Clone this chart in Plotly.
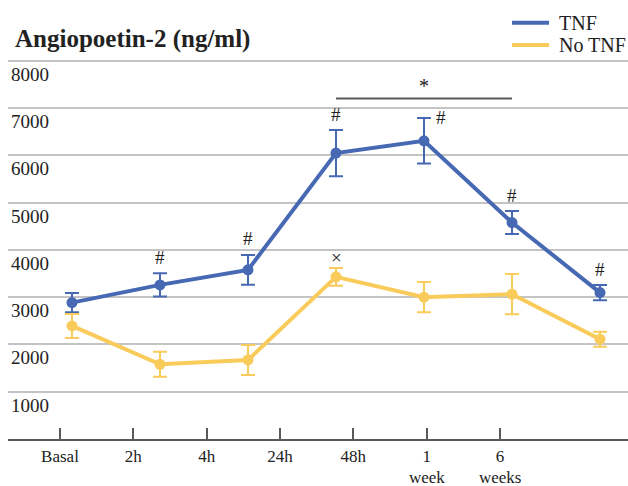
import plotly.graph_objects as go

# Time points and the labels printed under the axis (two-line labels split)
categories = ["Basal", "2h", "4h", "24h", "48h", "1 week", "6 weeks"]
tick_labels = ["Basal", "2h", "4h", "24h", "48h", "1", "6"]
tick_labels_2nd = ["", "", "", "", "", "week", "weeks"]

# Angiopoetin-2 concentration (ng/ml), mean and error
tnf = [2885, 3259, 3577, 6046, 6307, 4578, 3096]
tnf_err = [205, 247, 317, 487, 483, 243, 159]
no_tnf = [2392, 1580, 1672, 3429, 2999, 3062, 2110]
no_tnf_err = [254, 265, 317, 190, 321, 426, 159]

# Significance marks above each point
tnf_marks = ["", "#", "#", "#", "#", "#", "#"]
no_tnf_marks = ["", "", "", "×", "", "", ""]

# Bracket between 24h and 1 week
sig_from, sig_to = "24h", "1 week"
sig_level = 7200
sig_mark = "*"

y_ticks = [1000, 2000, 3000, 4000, 5000, 6000, 7000, 8000]

BLUE = "#4769B4"
YELLOW = "#F9CB5A"
GRID = "#C4C4C4"
AXIS = "#595959"
TEXT = "#222222"
FONT = "Liberation Serif, Times New Roman, serif"

fig = go.Figure()

series = [
    ("TNF", tnf, tnf_err, BLUE),
    ("No TNF", no_tnf, no_tnf_err, YELLOW),
]

for name, vals, errs, color in series:
    fig.add_trace(go.Scatter(
        x=categories, y=vals, mode="lines+markers", name=name,
        line=dict(color=color, width=4),
        marker=dict(color=color, size=11),
        error_y=dict(type="data", array=errs, visible=True,
                     color=color, thickness=2, width=7),
        showlegend=False,
    ))

# empty trace that carries the printed time-point axis
fig.add_trace(go.Scatter(x=[None], y=[None], xaxis="x2", yaxis="y",
                         showlegend=False, hoverinfo="skip"))

annotations = []
for i, cat in enumerate(categories):
    if tnf_marks[i]:
        xs, ys = 0, 16
        if cat == "48h":
            xs, ys = 17, 0
        annotations.append(dict(
            x=cat, y=tnf[i] + tnf_err[i], xref="x", yref="y",
            text=tnf_marks[i], showarrow=False, xshift=xs, yshift=ys,
            yanchor="middle", font=dict(family=FONT, size=19, color=TEXT)))
    if no_tnf_marks[i]:
        annotations.append(dict(
            x=cat, y=no_tnf[i] + no_tnf_err[i], xref="x", yref="y",
            text=no_tnf_marks[i], showarrow=False, yshift=10,
            yanchor="middle", font=dict(family=FONT, size=19, color=TEXT)))

# second line of the multi-line time labels
for i, txt in enumerate(tick_labels_2nd):
    if txt:
        annotations.append(dict(
            x=i, y=-0.1018, xref="x2", yref="paper", text=txt,
            showarrow=False, yanchor="middle",
            font=dict(family=FONT, size=17, color=TEXT)))

i0, i1 = categories.index(sig_from), categories.index(sig_to)
fig.add_shape(type="line", xref="x", yref="y", x0=i0, x1=i1,
              y0=sig_level, y1=sig_level, line=dict(color=AXIS, width=2))
annotations.append(dict(
    x=categories[(i0 + i1) // 2], y=sig_level, xref="x", yref="y",
    text=sig_mark, showarrow=False, yshift=13, yanchor="middle",
    font=dict(family=FONT, size=20, color=TEXT)))

annotations.append(dict(
    x=0.008, y=1.0444, xref="paper", yref="paper", xanchor="left",
    yanchor="middle", text="<b>Angiopoetin-2 (ng/ml)</b>", showarrow=False,
    font=dict(family=FONT, size=25, color=TEXT)))

# legend: short line swatch plus series name
for k, (name, _, _, color) in enumerate(series):
    ly = 1.087 - k * 0.0582
    fig.add_shape(type="line", xref="paper", yref="paper",
                  x0=0.8129, x1=0.8726, y0=ly, y1=ly,
                  line=dict(color=color, width=4))
    annotations.append(dict(
        x=0.8855, y=ly, xref="paper", yref="paper", xanchor="left",
        yanchor="middle", text=name, showarrow=False,
        font=dict(family=FONT, size=20, color=TEXT)))

fig.update_layout(
    width=628, height=486,
    margin=dict(l=8, r=0, t=56, b=47, autoexpand=False),
    paper_bgcolor="white", plot_bgcolor="white",
    font=dict(family=FONT, color=TEXT),
    annotations=annotations,
    showlegend=False,
    xaxis=dict(type="category", range=[-0.727, 6.318],
               showticklabels=False, showgrid=False, showline=False,
               ticks="", zeroline=False, automargin=False),
    xaxis2=dict(overlaying="x", anchor="y", side="bottom",
                range=[-0.709, 7.745], tickvals=list(range(len(tick_labels))),
                ticktext=tick_labels, showgrid=False, zeroline=False,
                showline=True, linecolor=AXIS, linewidth=2,
                ticks="inside", ticklen=11, tickwidth=2, tickcolor=AXIS,
                ticklabelstandoff=1, automargin=False,
                tickfont=dict(family=FONT, size=17, color=TEXT)),
    # a little headroom above 8000 so its grid line is kept
    yaxis=dict(range=[0, 8100], tickvals=y_ticks,
               ticktext=[str(v) for v in y_ticks],
               ticklabelposition="inside bottom",
               showgrid=True, gridcolor=GRID, gridwidth=1.5,
               showline=False, zeroline=False, ticks="", automargin=False,
               tickfont=dict(family=FONT, size=19, color=TEXT)),
)

fig.write_html("out.html")
